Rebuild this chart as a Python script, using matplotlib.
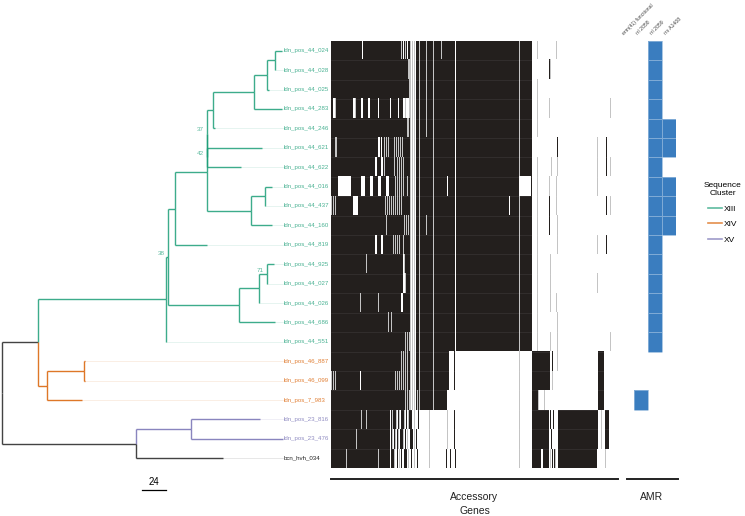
import matplotlib
matplotlib.use('Agg')
import matplotlib.pyplot as plt
from matplotlib.colors import ListedColormap
from matplotlib.lines import Line2D
import numpy as np

plt.rcParams['font.family'] = ['Liberation Sans', 'DejaVu Sans']

# tips, top to bottom
tips = ["ldn_pos_44_024", "ldn_pos_44_028", "ldn_pos_44_025", "ldn_pos_44_283",
        "ldn_pos_44_246", "ldn_pos_44_621", "ldn_pos_44_622", "ldn_pos_44_016",
        "ldn_pos_44_437", "ldn_pos_44_160", "ldn_pos_44_819", "ldn_pos_44_925",
        "ldn_pos_44_027", "ldn_pos_44_026", "ldn_pos_44_686", "ldn_pos_44_551",
        "ldn_pos_46_887", "ldn_pos_46_099", "ldn_pos_7_983", "ldn_pos_23_816",
        "ldn_pos_23_476", "bcn_hvh_034"]
tip_cluster = ["XIII"] * 16 + ["XIV"] * 3 + ["XV"] * 2 + [""]

# tree edges: (parent, child, branch length)
edges = [
    ("root", "X", 36), ("X", "A", 128), ("A", "A2", 2), ("A2", "B", 7),
    ("B", "B1", 32), ("B1", "P2", 0), ("P2", "E", 6), ("E", "F", 41),
    ("F", "G", 13), ("G", "H", 8), ("H", "ldn_pos_44_024", 7), ("H", "ldn_pos_44_028", 0),
    ("G", "ldn_pos_44_025", 2), ("F", "ldn_pos_44_283", 28), ("E", "ldn_pos_44_246", 2),
    ("P2", "Q", 0), ("Q", "ldn_pos_44_621", 55), ("Q", "ldn_pos_44_622", 34),
    ("B1", "D", 44), ("D", "D1", 14), ("D1", "ldn_pos_44_016", 7), ("D1", "ldn_pos_44_437", 0),
    ("D", "ldn_pos_44_160", 21), ("B", "ldn_pos_44_819", 32),
    ("A2", "C", 71), ("C", "C1", 20), ("C1", "C2", 8), ("C2", "ldn_pos_44_925", 7),
    ("C2", "ldn_pos_44_027", 0), ("C1", "ldn_pos_44_026", 0), ("C", "ldn_pos_44_686", 36),
    ("A", "ldn_pos_44_551", 0),
    ("X", "K", 9), ("K", "K1", 37), ("K1", "ldn_pos_46_887", 1), ("K1", "ldn_pos_46_099", 1),
    ("K", "ldn_pos_7_983", 35),
    ("root", "L", 134), ("L", "M", 55), ("M", "ldn_pos_23_816", 69),
    ("M", "ldn_pos_23_476", 92), ("L", "bcn_hvh_034", 87),
]
support = {"P2": 37, "Q": 42, "A2": 38, "C2": 71}
scale_len = 24

# accessory genes: presence (dark), partial (gray), absence (white) by gene index
acc_dark = [
    "0-200", "0-200 218", "0-200", "0-200", "0-200",
    "0-200 226 275", "0-200 275", "0-200", "0-200 218 275", "0-200 218",
    "0-200 275", "0-200", "0-200", "0-200", "0-200", "0-200",
    "0-117 123 201-218 221 267-272",
    "0-117 123 201-218 267-272",
    "0-115 201-206 267-272",
    "0-58 60 62-64 67 70-72 75 78-80 87 123 201-217 219 222 227-266 274-277",
    "0-58 60 63 66 69-71 74 79-81 85 123 201-217 220 227-266 274-277",
    "0-58 60-62 66 70 73-75 80 86 115 119 124 201-209 212-217 221 223 227-265",
]
acc_gray = [
    "70 74 79 81 83 88 95 102 110 188 206 225",
    "77 78 79 81 83 88 95 102 188 219",
    "78 79 81 83 88 95 102 188 206",
    "4 24 74 78 79 81 83 88 95 102 188 206 218 279",
    "76 77 79 81 83 88 95 102 188 206",
    "4 5 53 55 57 63 65 67 69 71 79 81 83 88 102 188 266",
    "53 63 66 68 70 72 79 81 83 88 102 188 206 220 226 266 279",
    "64 66 68 70 72 76 79 81 83 88 102 206 218 225 266",
    "0 2 4 54 56 58 60 62 64 66 68 70 79 81 83 88 102 188 206 225 279",
    "55 73 75 77 79 81 83 88 95 102 188 206 226",
    "62 64 66 68 72 79 81 83 88 102 188 206 226 266",
    "35 73 79 81 83 88 102 188 206 219",
    "74 79 81 83 88 102 188 206 219 266",
    "29 47 79 81 83 88 102 188 206 219 225",
    "57 60 79 81 83 88 102 188 206 226",
    "74 76 78 79 81 83 88 102 188 206 219 226 279",
    "70 72 74 76 79 81 83 88 102 188 226",
    "0 2 4 64 66 68 70 72 74 76 79 81 83 88 102 188 221",
    "74 76 78 79 81 83 86 88 102 188 207 213",
    "30 35 61 65 68 73 77 83 98 116 188 270",
    "25 61 64 67 72 76 83 98 116 188 270",
    "15 47 63 68 77 83 98 188 219 224 274",
]
acc_white = [
    "31 72 76 80 82 84 124", "80 82 84 124", "80 82 84 124",
    "2 3 22 23 30 31 37 38 47 59 67 72 73 75-77 80 82 84 124",
    "80 82 84 124", "47 48 50 80 82 84 124", "44 45 50 51 80 82 84 124",
    "7-19 30-33 39-41 47-49 55-57 80 82 84 116 124 188-199",
    "22-26 80 82 84 124 178", "80 82 84 124", "44 45 50 51 80 82 84 124",
    "72 80 82 84 124", "72 73 80 82 84 124", "70 71 80 82 84 124",
    "80 82 84 124", "80 82 84 124",
    "80 82 84", "29 80 82 84", "80 82 84", "", "", "",
]
n_genes = 280

# AMR
amr_genes = ["erm(41) functional", "rrl 2058", "rrl 2059", "rrs A1408"]
erm41_hits = []
rrl2058_hits = ["ldn_pos_7_983"]
rrl2059_hits = tips[:16]
rrsA1408_hits = ["ldn_pos_44_246", "ldn_pos_44_621", "ldn_pos_44_016",
                 "ldn_pos_44_437", "ldn_pos_44_160"]

cluster_names = ["XIII", "XIV", "XV"]
cluster_colors = {"XIII": "#1b9e77", "XIV": "#d95f02", "XV": "#7570b3", "": "#222222"}


def idx(spec):
    out = []
    for part in spec.split():
        if '-' in part:
            a, b = part.split('-')
            out += range(int(a), int(b) + 1)
        else:
            out.append(int(part))
    return out


# ---- tree layout ----
children = {}
for p, c, l in edges:
    children.setdefault(p, []).append((c, l))
xpos = {"root": 0.0}
stack = ["root"]
while stack:
    n = stack.pop()
    for c, l in children.get(n, []):
        xpos[c] = xpos[n] + l
        stack.append(c)
ypos = {t: i for i, t in enumerate(tips)}


def get_y(n):
    if n not in ypos:
        ypos[n] = np.mean([get_y(c) for c, _ in children[n]])
    return ypos[n]


def clade_cluster(n):
    if n in tips:
        return tip_cluster[tips.index(n)]
    cl = set(clade_cluster(c) for c, _ in children[n])
    return cl.pop() if len(cl) == 1 else ""


get_y("root")

W, H = 745, 516
fig = plt.figure(figsize=(W / 100, H / 100), dpi=100)
top, bot = 41, 468
ay, ah = (H - bot) / H, (bot - top) / H

# ---- tree ----
axt = fig.add_axes([0, ay, 331 / W, ah])
axt.set_xlim(-2, 329)
axt.set_ylim(len(tips) - 0.5, -0.5)
axt.axis('off')
for p, c, l in edges:
    col = cluster_colors[clade_cluster(c)]
    axt.plot([xpos[p], xpos[p]], [ypos[p], ypos[c]], color=col, lw=1.0, alpha=0.85,
             solid_capstyle='butt')
    axt.plot([xpos[p], xpos[c]], [ypos[c], ypos[c]], color=col, lw=1.0, alpha=0.85,
             solid_capstyle='butt')
label_x = 282
for i, t in enumerate(tips):
    col = cluster_colors[tip_cluster[i]]
    axt.plot([xpos[t], label_x - 1], [i, i], color=col, lw=0.5, alpha=0.15)
    axt.text(label_x, i, t, fontsize=4.4, color=col, alpha=0.8 if tip_cluster[i] else 1,
             va='center', ha='left')
for n, v in support.items():
    axt.text(xpos[n] - 3, ypos[n] - 0.2, str(v), fontsize=4.6, color="#1b9e77",
             alpha=0.7, ha='right', va='center')
sb_y = (490 - top) / ((bot - top) / len(tips)) - 0.5
axt.plot([140, 140 + scale_len], [sb_y, sb_y], color='black', lw=0.9, clip_on=False)
axt.text(140 + scale_len / 2, sb_y - 0.15, str(scale_len), fontsize=7, ha='center',
         va='bottom')

# ---- accessory genes heatmap ----
M = np.zeros((len(tips), n_genes))
for r in range(len(tips)):
    M[r, idx(acc_dark[r])] = 2
    M[r, idx(acc_gray[r])] = 1
    M[r, idx(acc_white[r])] = 0
axh = fig.add_axes([331 / W, ay, 280 / W, ah])
axh.imshow(M, aspect='auto', interpolation='nearest',
           cmap=ListedColormap(['white', '#c4c4c4', '#231f1d']), vmin=0, vmax=2,
           extent=(-0.5, n_genes - 0.5, len(tips) - 0.5, -0.5))
for r in range(len(tips) - 1):
    axh.axhline(r + 0.5, color='white', lw=0.4, alpha=0.12)
axh.axis('off')
axh.plot([0, 287 / 280], [-11 / 427, -11 / 427], transform=axh.transAxes, color='#222222',
         lw=1.4, clip_on=False)
axh.text(143.5 / 280, -24 / 427, "Accessory\nGenes", transform=axh.transAxes, fontsize=7.5,
         ha='center', va='top', linespacing=1.5, color='#222222')

# ---- AMR heatmap ----
hits = [erm41_hits, rrl2058_hits, rrl2059_hits, rrsA1408_hits]
A = np.zeros((len(tips), len(amr_genes)))
for j, hl in enumerate(hits):
    for t in hl:
        A[tips.index(t), j] = 1
axa = fig.add_axes([619.5 / W, ay, 56 / W, ah])
axa.pcolormesh(np.arange(len(amr_genes) + 1) - 0.5, np.arange(len(tips) + 1) - 0.5,
               np.ma.masked_equal(A, 0), cmap=ListedColormap(['#3a7dbf']),
               edgecolors=(1, 1, 1, 0.35), linewidth=0.6)
axa.set_xlim(-0.5, len(amr_genes) - 0.5)
axa.set_ylim(len(tips) - 0.5, -0.5)
axa.axis('off')
for j, g in enumerate(amr_genes):
    axa.text(j - 0.1, -0.75, g, rotation=45, rotation_mode='anchor', ha='left',
             va='bottom', fontsize=3.7, color='#444444')
axa.plot([7.5 / 56, 58.5 / 56], [-11 / 427, -11 / 427], transform=axa.transAxes,
         color='#222222', lw=1.4, clip_on=False)
axa.text(32.5 / 56, -24 / 427, "AMR", transform=axa.transAxes, fontsize=7.5,
         ha='center', va='top', color='#222222')

# ---- legend ----
handles = [Line2D([0], [0], color=cluster_colors[c], lw=1.2, alpha=0.7) for c in cluster_names]
leg = fig.legend(handles, cluster_names, title="Sequence\nCluster", loc='center',
                 bbox_to_anchor=(723 / W, 1 - 213 / H), frameon=False, fontsize=6,
                 title_fontsize=6, handlelength=1.6, handletextpad=0.3, labelspacing=0.95,
                 borderpad=0, alignment='center')
leg.get_title().set_multialignment('center')

fig.savefig('out.png', dpi=100)
print("saved out.png")
